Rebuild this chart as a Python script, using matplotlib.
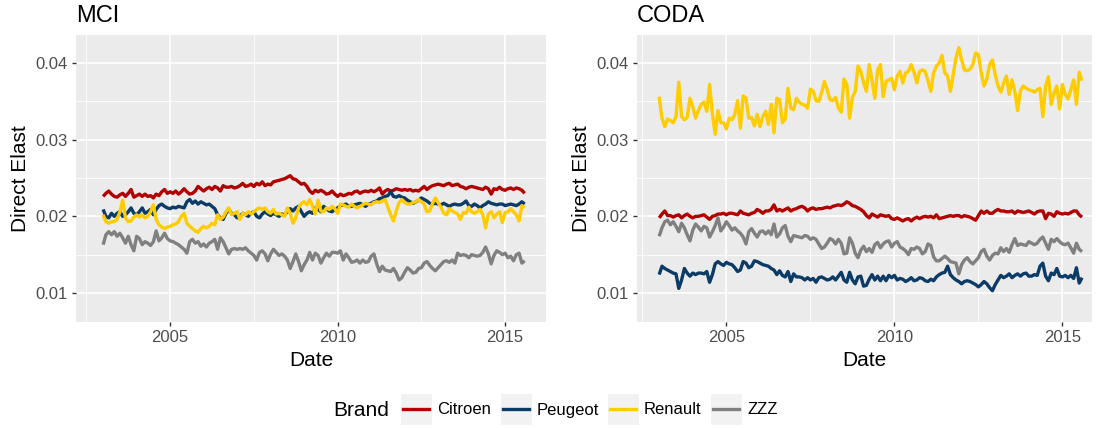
import matplotlib
matplotlib.use('Agg')
import matplotlib.pyplot as plt
from matplotlib.lines import Line2D
from matplotlib.patches import Rectangle
import numpy as np
import pandas as pd

plt.rcParams['font.family'] = ['Liberation Sans', 'DejaVu Sans']

# monthly dates, Jan 2003 .. Aug 2015
dates = pd.date_range('2003-01-01', '2015-08-01', freq='MS')
years = np.asarray(dates.year + (dates.month - 1) / 12.0)

brands = ['Citroen', 'Peugeot', 'Renault', 'ZZZ']
brand_colors = ['#B20000', '#0B3B66', '#FFCC00', '#808080']

# values in units of 1e-4
mci_citroen = [
    226, 230, 233, 229, 226, 225, 228, 230, 226, 230,
    235, 225, 227, 229, 226, 229, 226, 227, 224, 229,
    227, 232, 235, 230, 232, 230, 233, 229, 232, 236,
    232, 229, 230, 233, 239, 236, 233, 236, 238, 235,
    239, 237, 233, 240, 238, 238, 239, 237, 238, 240,
    243, 239, 240, 242, 239, 243, 241, 245, 240, 242,
    241, 245, 246, 247, 248, 249, 251, 253, 249, 248,
    245, 242, 243, 239, 233, 230, 234, 232, 234, 232,
    229, 230, 233, 229, 226, 229, 227, 228, 230, 229,
    232, 233, 230, 232, 233, 232, 234, 232, 234, 237,
    229, 233, 235, 233, 234, 236, 235, 234, 235, 234,
    235, 233, 234, 233, 236, 239, 235, 238, 240, 241,
    242, 241, 240, 242, 243, 240, 241, 242, 239, 238,
    236, 238, 239, 238, 237, 236, 235, 238, 236, 229,
    236, 235, 238, 235, 234, 236, 237, 235, 237, 236,
    234, 230]
mci_peugeot = [
    209, 200, 198, 204, 200, 204, 206, 200, 202, 206,
    211, 204, 202, 206, 211, 204, 206, 209, 202, 209,
    214, 216, 213, 211, 210, 212, 211, 213, 212, 211,
    219, 222, 217, 220, 216, 219, 217, 215, 216, 213,
    210, 202, 198, 196, 204, 209, 204, 202, 198, 200,
    204, 202, 200, 204, 206, 200, 198, 203, 206, 203,
    201, 204, 202, 200, 203, 202, 206, 210, 207, 211,
    213, 206, 200, 204, 206, 204, 211, 209, 206, 213,
    210, 207, 206, 209, 211, 214, 215, 216, 213, 213,
    215, 216, 217, 215, 213, 216, 217, 219, 220, 223,
    224, 226, 227, 232, 226, 225, 227, 225, 224, 221,
    219, 217, 219, 221, 224, 222, 220, 217, 216, 217,
    216, 215, 217, 215, 213, 215, 216, 215, 215, 217,
    220, 214, 213, 216, 214, 211, 214, 216, 219, 217,
    216, 215, 216, 216, 214, 215, 216, 215, 214, 216,
    219, 216]
mci_renault = [
    202, 193, 191, 193, 193, 196, 206, 221, 198, 193,
    194, 199, 202, 199, 202, 198, 200, 206, 215, 196,
    189, 186, 184, 186, 187, 189, 190, 193, 200, 204,
    191, 187, 184, 181, 179, 184, 187, 185, 187, 191,
    189, 202, 196, 199, 206, 211, 202, 204, 206, 196,
    204, 202, 206, 203, 206, 209, 211, 209, 211, 206,
    204, 209, 203, 204, 202, 200, 211, 204, 191, 198,
    211, 217, 219, 215, 222, 213, 203, 221, 207, 206,
    211, 209, 213, 210, 204, 216, 215, 213, 212, 216,
    213, 211, 213, 215, 217, 216, 215, 218, 219, 218,
    220, 222, 212, 202, 194, 207, 218, 222, 218, 216,
    216, 218, 219, 222, 219, 216, 206, 207, 217, 224,
    218, 212, 204, 202, 210, 207, 205, 203, 196, 205,
    204, 212, 206, 204, 206, 209, 202, 185, 203, 206,
    198, 203, 206, 192, 205, 206, 210, 206, 202, 194,
    214, 211]
mci_zzz = [
    163, 176, 180, 176, 180, 174, 178, 172, 165, 174,
    163, 155, 174, 171, 163, 167, 165, 162, 167, 181,
    168, 172, 178, 171, 168, 167, 165, 163, 160, 157,
    152, 167, 170, 165, 167, 161, 164, 160, 165, 167,
    170, 157, 172, 167, 159, 151, 157, 158, 157, 158,
    157, 159, 155, 152, 149, 143, 153, 155, 151, 142,
    151, 157, 153, 149, 151, 148, 143, 132, 141, 151,
    141, 129, 137, 143, 153, 143, 152, 149, 139, 146,
    152, 148, 153, 153, 152, 155, 143, 151, 146, 140,
    141, 143, 139, 143, 140, 141, 148, 151, 138, 128,
    135, 130, 129, 128, 132, 126, 117, 120, 127, 133,
    130, 126, 127, 132, 133, 139, 141, 136, 132, 129,
    133, 137, 141, 142, 140, 143, 139, 152, 149, 150,
    149, 146, 150, 149, 148, 149, 153, 160, 151, 138,
    149, 155, 153, 150, 152, 146, 148, 142, 150, 152,
    139, 142]

coda_citroen = [
    198, 203, 207, 201, 201, 199, 201, 202, 198, 201,
    203, 200, 198, 200, 200, 201, 202, 199, 196, 200,
    201, 203, 203, 204, 202, 204, 204, 203, 202, 207,
    204, 203, 202, 204, 205, 209, 207, 204, 207, 207,
    209, 215, 207, 209, 207, 209, 211, 207, 209, 210,
    212, 213, 211, 207, 210, 211, 209, 210, 210, 211,
    212, 211, 213, 214, 215, 214, 216, 219, 217, 214,
    213, 211, 209, 206, 201, 198, 203, 201, 199, 202,
    201, 200, 201, 197, 196, 198, 196, 194, 196, 197,
    194, 197, 199, 197, 199, 200, 199, 200, 198, 202,
    197, 198, 199, 200, 201, 200, 201, 201, 199, 201,
    200, 199, 197, 195, 201, 207, 204, 207, 204, 204,
    207, 209, 207, 207, 206, 206, 207, 204, 207, 206,
    205, 206, 207, 205, 203, 206, 207, 207, 197, 204,
    203, 200, 206, 204, 203, 204, 203, 205, 207, 207,
    202, 199]
coda_peugeot = [
    124, 135, 132, 130, 128, 126, 125, 106, 117, 132,
    126, 122, 126, 124, 126, 126, 125, 128, 114, 124,
    138, 141, 138, 136, 140, 138, 137, 133, 128, 130,
    141, 139, 133, 135, 142, 141, 139, 137, 136, 135,
    132, 130, 124, 129, 123, 121, 128, 115, 125, 121,
    121, 120, 117, 120, 117, 119, 114, 120, 121, 119,
    117, 118, 121, 117, 122, 127, 117, 114, 127, 117,
    112, 121, 122, 109, 110, 118, 124, 117, 122, 116,
    122, 116, 123, 120, 123, 117, 119, 118, 115, 117,
    120, 116, 117, 120, 119, 116, 115, 118, 116, 121,
    124, 126, 127, 135, 124, 120, 117, 115, 112, 115,
    116, 115, 113, 111, 108, 111, 115, 112, 107, 103,
    111, 117, 123, 120, 122, 125, 120, 123, 125, 122,
    125, 126, 122, 122, 124, 123, 135, 139, 122, 116,
    126, 124, 132, 122, 121, 123, 120, 123, 119, 133,
    113, 120]
coda_renault = [
    356, 328, 317, 327, 325, 322, 330, 375, 330, 326,
    329, 354, 343, 328, 338, 346, 349, 337, 372, 334,
    307, 338, 322, 322, 314, 328, 326, 333, 351, 315,
    357, 354, 328, 329, 318, 333, 317, 330, 337, 320,
    346, 309, 354, 352, 322, 327, 367, 341, 339, 354,
    349, 346, 345, 341, 366, 363, 351, 350, 361, 376,
    365, 352, 351, 355, 341, 336, 379, 372, 328, 355,
    363, 396, 389, 374, 363, 398, 378, 354, 391, 398,
    356, 376, 378, 380, 365, 383, 389, 374, 387, 389,
    398, 388, 374, 389, 391, 389, 377, 363, 387, 396,
    400, 410, 387, 383, 363, 385, 407, 420, 404, 391,
    390, 392, 398, 413, 411, 387, 370, 379, 398, 404,
    385, 370, 362, 374, 383, 359, 378, 363, 338, 364,
    370, 367, 365, 364, 362, 365, 367, 330, 370, 382,
    346, 361, 370, 340, 372, 359, 353, 365, 378, 346,
    388, 377]
coda_zzz = [
    174, 185, 193, 195, 189, 193, 187, 180, 191, 185,
    176, 168, 182, 190, 186, 181, 187, 185, 173, 180,
    188, 198, 181, 186, 193, 188, 182, 185, 181, 178,
    173, 164, 180, 184, 178, 173, 180, 181, 177, 181,
    176, 190, 173, 177, 185, 188, 174, 167, 175, 174,
    173, 172, 175, 174, 170, 172, 170, 164, 158, 160,
    165, 171, 169, 164, 170, 165, 151, 152, 172, 165,
    152, 146, 156, 161, 154, 158, 153, 163, 166, 159,
    164, 167, 168, 160, 165, 167, 160, 158, 155, 150,
    158, 157, 160, 158, 151, 154, 164, 162, 147, 142,
    142, 145, 148, 145, 141, 140, 139, 125, 137, 143,
    146, 141, 138, 142, 146, 154, 157, 148, 143, 149,
    152, 151, 159, 154, 158, 153, 163, 171, 162, 164,
    163, 162, 167, 165, 163, 165, 170, 173, 165, 157,
    170, 167, 171, 167, 164, 163, 165, 159, 152, 165,
    157, 154]

panels = [
    ('MCI', [mci_citroen, mci_peugeot, mci_renault, mci_zzz]),
    ('CODA', [coda_citroen, coda_peugeot, coda_renault, coda_zzz]),
]

W, H = 1104, 428


def px_box(left, top, right, bottom):
    return [left / W, 1 - bottom / H, (right - left) / W, (bottom - top) / H]


fig = plt.figure(figsize=(W / 100, H / 100), dpi=100)
ax_boxes = [px_box(76, 35, 546, 322), px_box(637, 35, 1092, 322)]
ax_xlims = [(2002.19, 2016.22), (2002.34, 2015.88)]

for (title, series), box, xlim in zip(panels, ax_boxes, ax_xlims):
    ax = fig.add_axes(box)
    ax.set_facecolor('#EBEBEB')
    for vals, color in zip(series, brand_colors):
        assert len(vals) == len(years)
        ax.plot(years, np.array(vals) * 1e-4, color=color, lw=2.4,
                solid_joinstyle='round', solid_capstyle='butt')
    ax.set_xlim(*xlim)
    ax.set_ylim(0.00622, 0.04365)
    ax.set_xticks([2005, 2010, 2015])
    ax.set_xticks([2002.5, 2007.5, 2012.5], minor=True)
    ax.set_yticks([0.01, 0.02, 0.03, 0.04])
    ax.set_yticklabels(['0.01', '0.02', '0.03', '0.04'])
    ax.set_yticks([0.015, 0.025, 0.035], minor=True)
    ax.grid(which='major', color='white', lw=1.2)
    ax.grid(which='minor', color='white', lw=0.6)
    ax.set_axisbelow(True)
    for s in ax.spines.values():
        s.set_visible(False)
    ax.tick_params(which='major', length=3, width=1, color='#333333',
                   labelcolor='#4D4D4D', labelsize=12, pad=3)
    ax.tick_params(which='minor', length=0)
    ax.set_xlabel('Date', fontsize=15, labelpad=4)
    ax.set_ylabel('Direct Elast', fontsize=15, labelpad=4)
    ax.set_title(title, loc='left', fontsize=17, pad=9)

# legend at the bottom, ggplot style
fig.text(333 / W, 1 - 410 / H, 'Brand', fontsize=15, va='center', ha='left')
key_lefts = [400, 500, 607, 710]
for name, color, kl in zip(brands, brand_colors, key_lefts):
    fig.add_artist(Rectangle((kl / W, 1 - 425 / H), 32 / W, 32 / H,
                             transform=fig.transFigure, facecolor='#F2F2F2',
                             edgecolor='white', lw=0.8))
    fig.add_artist(Line2D([(kl + 3) / W, (kl + 29) / W], [1 - 409 / H, 1 - 409 / H],
                          transform=fig.transFigure, color=color, lw=2.4))
    fig.text((kl + 37) / W, 1 - 410 / H, name, fontsize=12, va='center', ha='left')

fig.savefig('out.png', dpi=100)
